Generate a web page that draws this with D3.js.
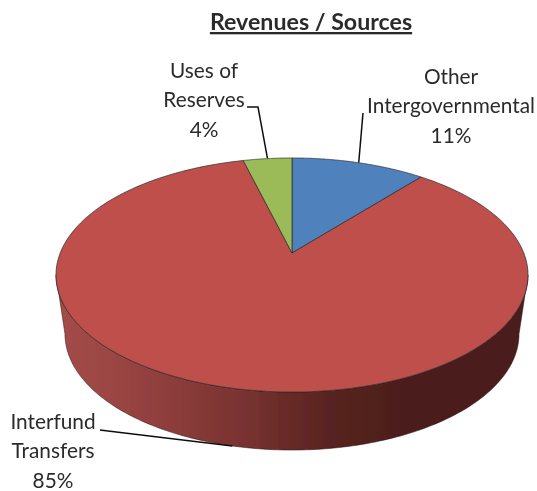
<!DOCTYPE html>
<html><head><meta charset="utf-8">
<script src="https://cdn.jsdelivr.net/npm/d3@7"></script>
<style>html,body{margin:0;padding:0;background:#fff}svg{display:block}text{font-family:Lato,"Open Sans",sans-serif;fill:#2b2b2b}</style>
</head><body><svg id="c" width="537" height="491"></svg>
<script>
const categories = ["Other Intergovernmental", "Interfund Transfers", "Uses of Reserves"];
const values = [11, 85, 4];
const colors = ["#4f81bd", "#be4f4c", "#9bbb59"];
const labelLines = [["Other", "Intergovernmental", "11%"], ["Interfund", "Transfers", "85%"], ["Uses of", "Reserves", "4%"]];
const labelX = [451, 53, 204];
const labelY = [84, 429, 78];
const leaderMid = [[363, 113], [108, 431], [258, 107]];
const leaderEnd = [[363, 113], [100, 430], [247, 107]];
const title = "Revenues / Sources";

const svg = d3.select("#c");
const cx = 292, cy = 253, a = 112.9, b = 231.8, k = 0.188;
const project = t => {
  const u = Math.sin(t), v = -Math.cos(t), d = 1 - k * v;
  return [cx + b * u / d, cy + a * v / d];
};
const ex = 292, ey = 275, rx = 236, ry = 117;
const bx = 292, by = 334, brx = 227, bry = 116;
const lower = ([x, y]) => [bx + (x - ex) * brx / rx, by + (y - ey) * bry / ry];

const pie = d3.pie().sort(null).value(d => d)(values);
const line = d3.line();
const arcPts = (s, e) => d3.range(0, 161).map(i => project(s + (e - s) * i / 160));

const defs = svg.append("defs");
const g = defs.append("linearGradient").attr("id", "wall").attr("gradientUnits", "userSpaceOnUse")
  .attr("x1", 56).attr("x2", 528).attr("y1", 0).attr("y2", 0);
[[0, "#a54c49"], [0.15, "#984442"], [0.39, "#7a3331"], [0.6, "#55221f"], [0.75, "#4b1e1c"], [1, "#4b1e1c"]]
  .forEach(([o, c]) => g.append("stop").attr("offset", o).attr("stop-color", c));
defs.append("filter").attr("id", "soft").append("feGaussianBlur").attr("stdDeviation", 0.45);

const redIdx = 1;
const widest = Math.acos(-k);
const rim = arcPts(widest, 2 * Math.PI - widest);
const wall = rim.concat(rim.slice().reverse().map(lower));
const root = svg.append("g").attr("filter", "url(#soft)");
root.append("path").attr("d", line(wall) + "Z").attr("fill", "url(#wall)").attr("stroke", "#2a1110").attr("stroke-width", 0.5);

const anchor = (d, i) => {
  const p = project((d.startAngle + d.endAngle) / 2);
  return i === redIdx ? lower(p) : p;
};
pie.forEach((d, i) => {
  root.append("path").attr("d", line([anchor(d, i), leaderMid[i], leaderEnd[i]]))
    .attr("fill", "none").attr("stroke", "#111").attr("stroke-width", 1.5);
});

pie.forEach((d, i) => {
  const pts = [[cx, cy]].concat(arcPts(d.startAngle, d.endAngle));
  root.append("path").attr("d", line(pts) + "Z").attr("fill", colors[i])
    .attr("stroke", "#2a2a2a").attr("stroke-width", 0.7).attr("stroke-linejoin", "round");
});

pie.forEach((d, i) => {
  const t = root.append("text").attr("text-anchor", "middle").attr("font-size", 20.8);
  labelLines[i].forEach((s, j) => t.append("tspan").attr("x", labelX[i]).attr("y", labelY[i] + j * 29.3).text(s));
});
root.append("text").attr("x", 311).attr("y", 30).attr("text-anchor", "middle")
  .attr("font-size", 23.2).attr("font-weight", 700).attr("text-decoration", "underline").text(title);
</script></body></html>
